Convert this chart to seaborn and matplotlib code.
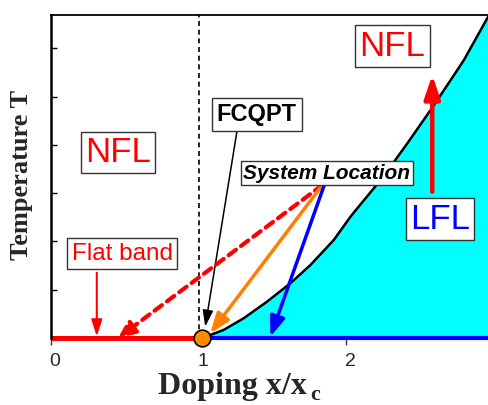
import matplotlib
matplotlib.use("Agg")
import matplotlib.pyplot as plt
from matplotlib.transforms import ScaledTranslation
import seaborn as sns

# Crossover line T*(x) between the NFL and LFL regions (doping x/x_c, temperature)
boundary_x = [1.02, 1.078, 1.168, 1.304, 1.462, 1.620, 1.756, 1.914, 2.027,
              2.073, 2.185, 2.298, 2.412, 2.569, 2.683, 2.795, 2.965]
boundary_t = [0.0, 0.062, 0.166, 0.408, 0.752, 1.133, 1.511, 2.029, 2.511,
              2.685, 3.099, 3.547, 4.031, 4.720, 5.238, 5.756, 6.687]

x_ticks = [0, 1, 2]
x_tick_labels = ["0", "1", "2"]
t_ticks = [0, 1, 2, 3, 4, 5, 6]

x_fcqpt = 1.0          # position of the quantum critical point
qcp_x, qcp_t = 1.02, 0.0
x_max, t_max = 2.965, 6.69

sns.set_theme(style="white")
plt.rcParams["font.family"] = ["Liberation Sans", "DejaVu Sans"]

fig = plt.figure(figsize=(4.89, 4.05), dpi=100)
ax = fig.add_axes([51 / 489, 67 / 405, 438 / 489, 323 / 405])
ax.set_xlim(0, x_max)
ax.set_ylim(0, t_max)

# LFL region below the crossover line
ax.fill_between(boundary_x, 0, boundary_t, color="#00FFFF", lw=0, zorder=1)
sns.lineplot(x=boundary_x, y=boundary_t, sort=False, color="black", lw=1.8,
             ax=ax, zorder=3)

# vertical line through the FCQPT
ax.plot([x_fcqpt, x_fcqpt], [0, t_max], color="black", lw=1.2,
        ls=(0, (3, 2.2)), zorder=2)

# flat band (red) and LFL ground state (blue) along T = 0
ax.plot([0, qcp_x], [0, 0], color="#FF0000", lw=3.6, solid_capstyle="butt",
        clip_on=False, zorder=4)
ax.plot([qcp_x, x_max], [0, 0], color="#0000FF", lw=3.0, solid_capstyle="butt",
        clip_on=False, zorder=4)


def arrow(start, tip, color, lw, hl, hw, ls="-", z=5):
    ax.annotate("", xy=tip, xytext=start,
                arrowprops=dict(arrowstyle=f"-|>,head_length={hl},head_width={hw}",
                                color=color, lw=lw, ls=ls, shrinkA=0, shrinkB=0,
                                mutation_scale=1),
                zorder=z)


origin = (1.837, 3.168)
arrow((1.259, 4.286), (1.044, 0.234), "black", 1.1, 10, 3.2)
arrow((0.310, 1.352), (0.310, 0.03), "#FF0000", 1.5, 10, 3.2)
arrow(origin, (0.454, 0.0), "#FF0000", 3.0, 10, 4.5, ls=(0, (2.2, 1.5)))
arrow(origin, (1.078, 0.097), "#FF8000", 2.5, 12, 4.5)
arrow((1.85, 3.168), (1.485, 0.027), "#0000FF", 2.5, 12, 4.5)
arrow((2.581, 3.029), (2.581, 5.445), "#FF0000", 3.2, 14, 4.8)

ax.plot([qcp_x], [qcp_t], "o", ms=12, mfc="#FF8C00", mec="black", mew=1.2,
        clip_on=False, zorder=6)


def box(x, y, s, color, size, weight="normal", style="normal", pad=0.12):
    ax.text(x, y, s, color=color, fontsize=size, fontweight=weight,
            fontstyle=style, ha="center", va="center", zorder=7,
            bbox=dict(boxstyle=f"square,pad={pad}", fc="white", ec="#333333",
                      lw=1.0))


box(0.454, 3.841, "NFL", "#FF0000", 25)
box(2.312, 6.046, "NFL", "#FF0000", 25)
box(2.634, 2.464, "LFL", "#0000FF", 25)
box(1.393, 4.627, "FCQPT", "black", 17, weight="bold", pad=0.2)
box(1.868, 3.416, "System Location", "black", 15, weight="bold",
    style="italic", pad=0.12)
box(0.481, 1.749, "Flat band", "#FF0000", 17.5, pad=0.2)

# axes frame and ticks
for side in ["right", "bottom"]:
    ax.spines[side].set_visible(False)
ax.spines["left"].set_linewidth(1.8)
ax.spines["top"].set_linewidth(1.3)
for s in ["left", "top"]:
    ax.spines[s].set_color("black")
ax.spines["left"].set_zorder(8)

ax.set_xticks(x_ticks)
ax.set_xticklabels(x_tick_labels)
ax.set_yticks(t_ticks)
ax.set_yticklabels([])
ax.tick_params(axis="x", direction="out", length=5, width=1, color="#333333",
               pad=6, labelsize=14, bottom=True)
ax.tick_params(axis="y", direction="in", length=4, width=1, color="black",
               left=True)
for lab in ax.get_xticklabels():
    lab.set_transform(lab.get_transform() + ScaledTranslation(0.04, 0, fig.dpi_scale_trans))

# axis titles; the subscript of x_c sits low, under the baseline
ax.set_xlabel("Doping x/x", fontsize=23, fontweight="bold",
              family="Liberation Serif")
ax.xaxis.set_label_coords(0.414, -0.106)
fig.text(315 / 489, 5 / 405, "c", fontsize=16, fontweight="bold",
         family="Liberation Serif", ha="center", va="baseline")
ax.set_ylabel("Temperature T", fontsize=19, fontweight="bold",
              family="Liberation Serif")
ax.yaxis.set_label_coords(-0.041, 0.505)

fig.savefig("out.png", dpi=100)
